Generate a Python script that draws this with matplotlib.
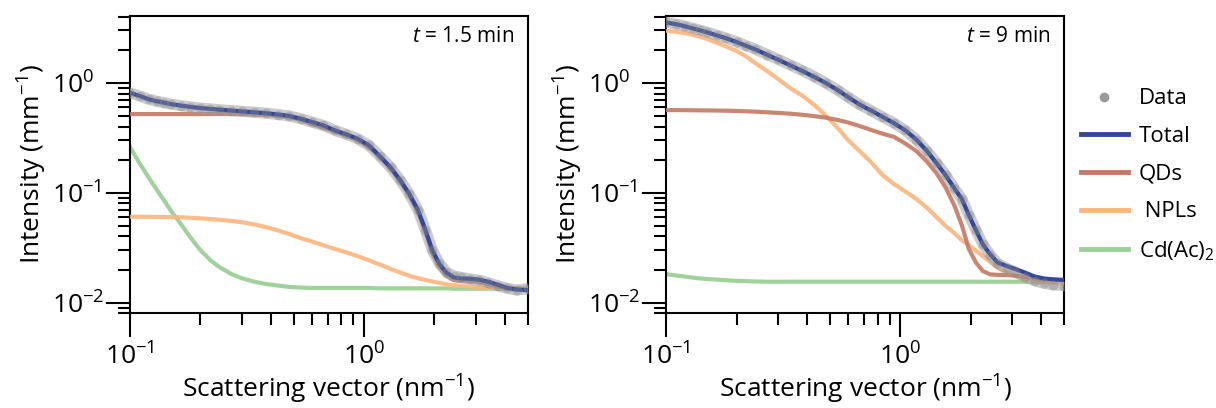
import matplotlib
matplotlib.use("Agg")
import matplotlib.pyplot as plt
from matplotlib.lines import Line2D

plt.rcParams['font.family'] = 'Open Sans'
plt.rcParams['mathtext.fontset'] = 'custom'
plt.rcParams['mathtext.rm'] = 'Open Sans'
plt.rcParams['mathtext.it'] = 'Open Sans:italic'

# wektor rozpraszania (nm^-1), wspolny dla obu paneli
q = [0.10, 0.11, 0.12, 0.13, 0.14, 0.15, 0.165, 0.18, 0.20, 0.22, 0.24, 0.27,
     0.30, 0.34, 0.38, 0.43, 0.48, 0.54, 0.60, 0.67, 0.75, 0.84, 0.94, 1.05,
     1.17, 1.30, 1.43, 1.56, 1.70, 1.83, 1.96, 2.10, 2.25, 2.42, 2.60, 2.85,
     3.10, 3.40, 3.75, 4.10, 4.50, 5.00]

# t = 1.5 min
data_a = [0.81, 0.76, 0.71, 0.68, 0.66, 0.64, 0.62, 0.605, 0.59, 0.58, 0.57, 0.56,
          0.55, 0.54, 0.53, 0.515, 0.50, 0.47, 0.44, 0.41, 0.37, 0.34, 0.31, 0.27,
          0.215, 0.17, 0.13, 0.098, 0.070, 0.046, 0.030, 0.0228, 0.0190, 0.0175, 0.0170, 0.0164,
          0.0160, 0.0152, 0.0142, 0.0135, 0.0130, 0.0134]
total_a = [0.81, 0.76, 0.71, 0.68, 0.66, 0.64, 0.62, 0.605, 0.59, 0.58, 0.57, 0.56,
           0.55, 0.54, 0.53, 0.515, 0.50, 0.47, 0.44, 0.41, 0.37, 0.34, 0.31, 0.27,
           0.215, 0.17, 0.13, 0.098, 0.070, 0.046, 0.030, 0.0225, 0.0188, 0.0170, 0.0166, 0.0165,
           0.0162, 0.0155, 0.0145, 0.0136, 0.0132, 0.0130]
qds_a = [0.52, 0.52, 0.52, 0.52, 0.52, 0.52, 0.52, 0.52, 0.52, 0.52, 0.52, 0.52,
         0.52, 0.515, 0.51, 0.50, 0.485, 0.46, 0.42, 0.39, 0.36, 0.33, 0.30, 0.26,
         0.21, 0.165, 0.126, 0.095, 0.067, 0.044, 0.028, 0.021, 0.0175, 0.0160, 0.0157, 0.0157,
         0.0154, 0.0148, 0.0140, 0.0134, 0.0131, 0.0130]
npls_a = [0.0605, 0.0605, 0.0604, 0.0603, 0.0602, 0.0600, 0.0598, 0.0593, 0.0585, 0.0577, 0.0568, 0.0555,
          0.0540, 0.0515, 0.0488, 0.0455, 0.0420, 0.0385, 0.0360, 0.0333, 0.0308, 0.0287, 0.0265, 0.0243,
          0.0222, 0.0203, 0.0188, 0.0176, 0.0167, 0.0161, 0.0156, 0.0151, 0.0147, 0.0144, 0.0142, 0.0140,
          0.0138, 0.0137, 0.0136, 0.0136, 0.0136, 0.0136]
cdac_a = [0.26, 0.185, 0.138, 0.107, 0.085, 0.068, 0.052, 0.040, 0.030, 0.0245, 0.0212, 0.0183,
          0.0167, 0.0155, 0.0148, 0.0143, 0.0139, 0.0137, 0.0136, 0.0136, 0.0136, 0.0136, 0.0136, 0.0136,
          0.0135, 0.0135, 0.0135, 0.0135, 0.0135, 0.0135, 0.0135, 0.0135, 0.0135, 0.0134, 0.0134, 0.0134,
          0.0134, 0.0134, 0.0134, 0.0134, 0.0134, 0.0134]

# t = 9 min
data_b = [3.56, 3.43, 3.29, 3.14, 3.01, 2.89, 2.71, 2.56, 2.36, 2.18, 2.03, 1.81,
          1.64, 1.45, 1.30, 1.14, 1.00, 0.86, 0.74, 0.635, 0.56, 0.49, 0.43, 0.37,
          0.305, 0.24, 0.186, 0.146, 0.110, 0.088, 0.063, 0.046, 0.034, 0.0272, 0.0228, 0.0205,
          0.0190, 0.0172, 0.0158, 0.0150, 0.0145, 0.0143]
total_b = [3.54, 3.42, 3.28, 3.13, 3.00, 2.88, 2.70, 2.55, 2.35, 2.17, 2.02, 1.80,
           1.63, 1.44, 1.29, 1.13, 1.00, 0.86, 0.74, 0.635, 0.56, 0.49, 0.43, 0.37,
           0.305, 0.24, 0.185, 0.145, 0.110, 0.088, 0.063, 0.046, 0.034, 0.0275, 0.0232, 0.0215,
           0.0202, 0.0188, 0.0173, 0.0166, 0.0163, 0.0161]
qds_b = [0.565, 0.565, 0.564, 0.563, 0.562, 0.561, 0.560, 0.558, 0.555, 0.551, 0.547, 0.540,
         0.533, 0.524, 0.513, 0.498, 0.482, 0.46, 0.435, 0.405, 0.373, 0.345, 0.322, 0.281,
         0.240, 0.192, 0.150, 0.112, 0.077, 0.051, 0.031, 0.0233, 0.0194, 0.0181, 0.0179, 0.0178,
         0.0176, 0.0172, 0.0166, 0.0163, 0.0161, 0.0160]
npls_b = [2.97, 2.92, 2.84, 2.74, 2.62, 2.50, 2.32, 2.15, 1.95, 1.74, 1.52, 1.28,
          1.09, 0.89, 0.77, 0.63, 0.505, 0.39, 0.30, 0.24, 0.19, 0.145, 0.12, 0.103,
          0.088, 0.073, 0.060, 0.050, 0.043, 0.037, 0.0335, 0.0298, 0.0265, 0.0235, 0.0208, 0.0188,
          0.0174, 0.0165, 0.0158, 0.0155, 0.0152, 0.0151]
cdac_b = [0.0182, 0.0177, 0.0173, 0.0169, 0.0166, 0.0164, 0.0162, 0.0160, 0.0158, 0.0157, 0.0156, 0.0155,
          0.0155, 0.0155, 0.0155, 0.0155, 0.0155, 0.0155, 0.0155, 0.0155, 0.0155, 0.0155, 0.0155, 0.0155,
          0.0155, 0.0155, 0.0155, 0.0155, 0.0155, 0.0155, 0.0155, 0.0155, 0.0155, 0.0155, 0.0155, 0.0155,
          0.0155, 0.0155, 0.0155, 0.0155, 0.0155, 0.0155]

labels = ['Data', 'Total', 'QDs', ' NPLs', 'Cd(Ac)$_2$']
colors = ['#9a9a9a', '#34489a', '#c47a62', '#fcb57c', '#9bd196']
times = ['$t$ = 1.5 min', '$t$ = 9 min']

fig = plt.figure(figsize=(12.16, 4.08), dpi=100)
ax1 = fig.add_axes([0.1069, 0.2321, 0.3269, 0.7299])
ax2 = fig.add_axes([0.5477, 0.2321, 0.3273, 0.7299])

panels = [(ax1, data_a, total_a, qds_a, npls_a, cdac_a),
          (ax2, data_b, total_b, qds_b, npls_b, cdac_b)]

for i, (ax, d, tot, qd, npl, cd) in enumerate(panels):
    ax.plot(q, cd, color=colors[4], lw=3, alpha=0.95, zorder=2)
    ax.plot(q, npl, color=colors[3], lw=3, alpha=0.9, zorder=3)
    ax.plot(q, qd, color=colors[2], lw=3, alpha=0.9, zorder=4)
    # gesto rozlozone punkty pomiarowe -> szare pasmo + kropki
    ax.plot(q, d, '-', lw=8, color='#a0a0a0', alpha=0.55, solid_capstyle='round', zorder=4.5)
    ax.plot(q, tot, color=colors[1], lw=3, zorder=5)
    ax.plot(q, d, 'o', ms=7, color='#8a8a8a', mec='none', alpha=0.4, zorder=6)

    ax.set_xscale('log')
    ax.set_yscale('log')
    ax.set_xlim(0.1, 5.0)
    ax.set_ylim(0.008, 4.1)
    ax.set_xlabel('Scattering vector (nm$^{-1}$)', fontsize=19, labelpad=1)
    ax.set_ylabel('Intensity (mm$^{-1}$)', fontsize=19, labelpad=2)
    ax.text(0.967, 0.93, times[i], transform=ax.transAxes, ha='right', va='center', fontsize=15)

    for s in ax.spines.values():
        s.set_linewidth(1.5)
    ax.tick_params(which='major', length=17, width=1.5, labelsize=19)
    ax.tick_params(which='minor', length=8.5, width=1.5)
    ax.tick_params(axis='x', which='major', pad=5)
    ax.tick_params(axis='y', which='major', pad=39)
    for lab in ax.get_yticklabels():
        lab.set_horizontalalignment('left')

handles = [Line2D([], [], marker='o', ls='', ms=6, color=colors[0])]
for c in colors[1:]:
    handles.append(Line2D([], [], color=c, lw=3.5))
fig.legend(handles, labels, loc='center left', bbox_to_anchor=(1081 / 1216, 1 - 175.5 / 408),
           frameon=False, fontsize=16, handlelength=2.1, handletextpad=0.5,
           labelspacing=0.75, borderpad=0, borderaxespad=0)

plt.savefig('out.png', dpi=100)
